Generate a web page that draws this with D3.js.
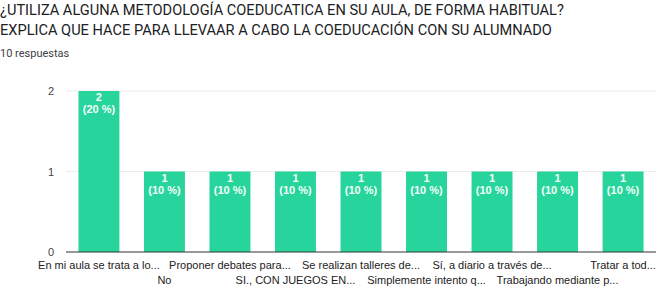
<!DOCTYPE html>
<html>
<head>
<meta charset="utf-8">
<script src="https://cdn.jsdelivr.net/npm/d3@7"></script>
<style>
  body { margin: 0; background: #fff; }
  svg { display: block; }
</style>
</head>
<body>
<svg id="chart" width="664" height="288"></svg>
<script>
const titleLines = [
  "¿UTILIZA ALGUNA METODOLOGÍA COEDUCATICA EN SU AULA, DE FORMA HABITUAL?",
  "EXPLICA QUE HACE PARA LLEVAAR A CABO LA COEDUCACIÓN CON SU ALUMNADO"
];
const subtitle = "10 respuestas";
const categories = [
  "En mi aula se trata a lo...",
  "No",
  "Proponer debates para...",
  "SI., CON JUEGOS EN...",
  "Se realizan talleres de...",
  "Simplemente intento q...",
  "Sí, a diario a través de...",
  "Trabajando mediante p...",
  "Tratar a tod..."
];
const counts = [2, 1, 1, 1, 1, 1, 1, 1, 1];
const percents = [20, 10, 10, 10, 10, 10, 10, 10, 10];
const yTicks = [0, 1, 2];

const svg = d3.select("#chart");
const margin = {left: 66, right: 8, top: 91, bottom: 36};
const width = 664 - margin.left - margin.right;
const height = 288 - margin.top - margin.bottom;

// titles
svg.selectAll(".title")
  .data(titleLines)
  .enter().append("text")
  .attr("x", 0)
  .attr("y", (d, i) => 15 + i * 20)
  .attr("font-family", "Roboto, Arial, sans-serif")
  .attr("font-size", 14.6)
  .attr("fill", "#202124")
  .text(d => d);

svg.append("text")
  .attr("x", 0)
  .attr("y", 57)
  .attr("font-family", "Roboto, Arial, sans-serif")
  .attr("font-size", 11)
  .attr("fill", "#3c4043")
  .text(subtitle);

const g = svg.append("g")
  .attr("transform", `translate(${margin.left}, ${margin.top})`);

const xScale = d3.scaleBand()
  .domain(categories)
  .range([0, width])
  .paddingInner(0.375)
  .paddingOuter(0.19);

const yScale = d3.scaleLinear()
  .domain([0, 2])
  .range([height, 0]);

// gridlines
g.selectAll(".grid")
  .data(yTicks.filter(t => t > 0))
  .enter().append("line")
  .attr("x1", 0)
  .attr("x2", width)
  .attr("y1", d => yScale(d))
  .attr("y2", d => yScale(d))
  .attr("stroke", "#ebebeb")
  .attr("stroke-width", 1);

// y tick labels
g.selectAll(".ylab")
  .data(yTicks)
  .enter().append("text")
  .attr("x", -12)
  .attr("y", d => yScale(d) + 4)
  .attr("text-anchor", "end")
  .attr("font-family", "Arial, 'Liberation Sans', sans-serif")
  .attr("font-size", 11)
  .attr("fill", "#444")
  .text(d => d);

const data = categories.map((c, i) => ({cat: c, count: counts[i], pct: percents[i], i}));

g.selectAll(".bar")
  .data(data)
  .enter().append("rect")
  .attr("class", "bar")
  .attr("x", d => xScale(d.cat))
  .attr("y", d => yScale(d.count))
  .attr("width", xScale.bandwidth())
  .attr("height", d => height - yScale(d.count))
  .attr("fill", "#27d49b");

// value labels inside bars
const lab = g.selectAll(".vlab")
  .data(data)
  .enter().append("text")
  .attr("text-anchor", "middle")
  .attr("font-family", "Arial, 'Liberation Sans', sans-serif")
  .attr("font-size", 11)
  .attr("font-weight", "bold")
  .attr("fill", "#f4fffa");
lab.append("tspan")
  .attr("x", d => xScale(d.cat) + xScale.bandwidth() / 2)
  .attr("y", d => yScale(d.count) + 10)
  .text(d => d.count);
lab.append("tspan")
  .attr("x", d => xScale(d.cat) + xScale.bandwidth() / 2)
  .attr("y", d => yScale(d.count) + 22)
  .text(d => `(${d.pct} %)`);

// baseline
g.append("line")
  .attr("x1", 0)
  .attr("x2", width)
  .attr("y1", height)
  .attr("y2", height)
  .attr("stroke", "#333")
  .attr("stroke-width", 1);

// category labels, staggered on two rows
g.selectAll(".xlab")
  .data(data)
  .enter().append("text")
  .attr("x", d => xScale(d.cat) + xScale.bandwidth() / 2)
  .attr("y", d => height + (d.i % 2 === 0 ? 17 : 32))
  .attr("text-anchor", "middle")
  .attr("font-family", "Arial, 'Liberation Sans', sans-serif")
  .attr("font-size", 11)
  .attr("fill", "#222")
  .text(d => d.cat);
</script>
</body>
</html>
